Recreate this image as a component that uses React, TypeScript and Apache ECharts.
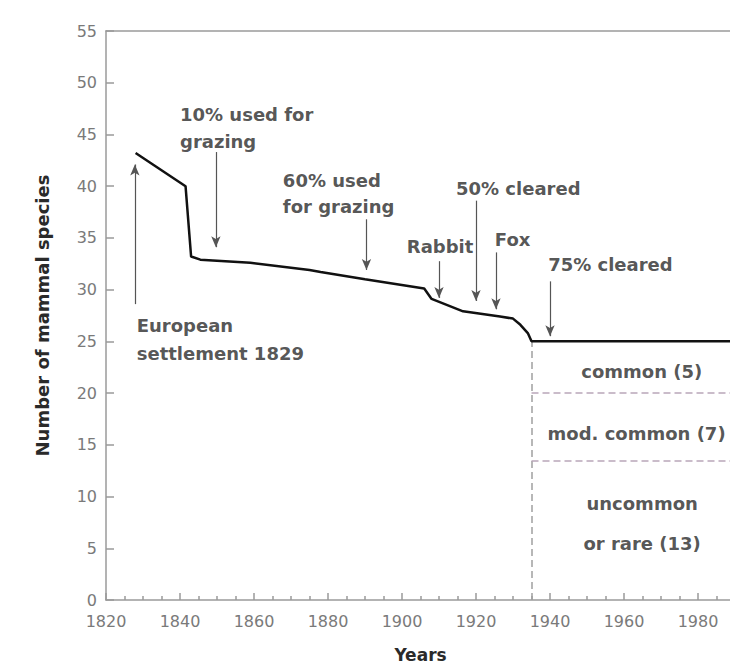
import React, { useEffect, useRef } from "react";
import * as echarts from "echarts";

// Species curve: [year, number of mammal species]
const years = [1828, 1841.5, 1843, 1845.5, 1859, 1875, 1878, 1890, 1906, 1908, 1916.5, 1926.5, 1930, 1932, 1934, 1935, 1990];
const species = [43.2, 40, 33.2, 32.9, 32.6, 31.9, 31.7, 31.0, 30.1, 29.1, 27.9, 27.4, 27.2, 26.6, 25.8, 25, 25];

// Event arrows: year, start value, end value
const arrowYears = [1827.8, 1849.7, 1890.4, 1910, 1920, 1925.4, 1940];
const arrowFrom = [28.6, 43.3, 36.8, 32.75, 38.6, 33.6, 30.8];
const arrowTo = [42.1, 34.1, 31.9, 29.2, 28.9, 28.1, 25.5];

// Event labels (left aligned)
const eventTexts = ["European\nsettlement 1829", "10% used for\ngrazing", "60% used\nfor grazing", "Rabbit", "50% cleared", "Fox", "75% cleared"];
const eventX = [1828.3, 1840, 1867.8, 1901.3, 1914.6, 1925.1, 1939.5];
const eventY = [25.2, 45.6, 39.3, 34.15, 39.8, 34.8, 32.4];

// Category bands after 1935
const bandTexts = ["common (5)", "mod. common (7)", "uncommon\nor rare (13)"];
const bandX = [1964.8, 1963.4, 1964.9];
const bandY = [22.07, 16.1, 7.4];
const bandBounds = [20, 13.5];
const stableYear = 1935;
const stableValue = 25;

const xTicks = { min: 1820, max: 1990, interval: 20 };
const yTicks = { min: 0, max: 55, interval: 5 };

export default function App() {
  const ref = useRef<HTMLDivElement>(null);
  useEffect(() => {
    document.body.style.margin = "0";
    document.body.style.overflow = "hidden";
    const chart = echarts.init(ref.current!, undefined, { renderer: "svg", width: 730, height: 664 });
    const font = "DejaVu Sans";
    const annColor = "#2a2a2a";
    const axisColor = "#9a9a9a";
    const labelColor = "#7a7a7a";

    const arrowData = arrowYears.map((x, i) => [
      { coord: [x, arrowFrom[i]] },
      { coord: [x, arrowTo[i]] },
    ]);

    const eventData = eventTexts.map((t, i) => ({
      value: [eventX[i], eventY[i]],
      label: {
        formatter: t,
        align: "left",
        verticalAlign: "middle",
        lineHeight: i === 0 ? 28 : 26.7,
      },
    }));

    const bandData = bandTexts.map((t, i) => ({
      value: [bandX[i], bandY[i]],
      label: {
        formatter: t,
        align: "center",
        verticalAlign: "middle",
        lineHeight: 40,
      },
    }));

    chart.setOption({
      animation: false,
      backgroundColor: "#ffffff",
      grid: {
        left: 106,
        top: 31,
        width: 629,
        height: 569,
        containLabel: false,
        outerBoundsMode: "none",
      },
      xAxis: [
        {
          type: "value",
          min: xTicks.min,
          max: xTicks.max,
          interval: xTicks.interval,
          name: "Years",
          nameLocation: "middle",
          nameGap: 46,
          nameTextStyle: { fontFamily: font, fontWeight: "bold", fontSize: 17, color: annColor },
          axisLine: { lineStyle: { color: axisColor, width: 1.5 } },
          axisTick: { inside: true, length: 7, lineStyle: { color: axisColor, width: 1.5 } },
          minorTick: { show: true, splitNumber: 4, length: 4, lineStyle: { color: axisColor, width: 1.5 } },
          splitLine: { show: false },
          axisLabel: {
            fontFamily: font,
            fontSize: 16,
            color: labelColor,
            margin: 13,
            formatter: (v: number) => (v % 20 === 0 && v <= 1980 ? String(v) : ""),
          },
        },
        {
          type: "value",
          position: "top",
          min: xTicks.min,
          max: xTicks.max,
          axisLine: { show: true, lineStyle: { color: axisColor, width: 1.5 } },
          axisTick: { show: false },
          axisLabel: { show: false },
          splitLine: { show: false },
        },
      ],
      yAxis: {
        type: "value",
        min: yTicks.min,
        max: yTicks.max,
        interval: yTicks.interval,
        name: "Number of mammal species",
        nameLocation: "middle",
        nameGap: 55,
        nameRotate: 90,
        nameTextStyle: { fontFamily: font, fontWeight: "bold", fontSize: 18, color: annColor },
        axisLine: { show: true, lineStyle: { color: axisColor, width: 1.5 } },
        axisTick: { show: true, inside: true, length: 8, lineStyle: { color: axisColor, width: 1.5 } },
        splitLine: { show: false },
        axisLabel: { fontFamily: font, fontSize: 16, color: labelColor, margin: 9 },
      },
      series: [
        {
          type: "line",
          name: "species",
          data: years.map((y, i) => [y, species[i]]),
          symbol: "none",
          lineStyle: { color: "#111111", width: 2.5 },
          z: 5,
          markLine: {
            silent: true,
            symbol: ["none", "arrow"],
            symbolSize: [7, 11],
            label: { show: false },
            lineStyle: { color: "#555555", width: 1.2, type: "solid" },
            data: arrowData,
          },
        },
        {
          type: "line",
          name: "bands",
          data: [],
          markLine: {
            silent: true,
            symbol: ["none", "none"],
            label: { show: false },
            data: [
              [
                { coord: [stableYear, 0], lineStyle: { color: "#a0a0a0", type: [7, 4], width: 1.5 } },
                { coord: [stableYear, stableValue] },
              ],
              ...bandBounds.map((b) => [
                { coord: [stableYear, b], lineStyle: { color: "#b9a6b9", type: [7, 4], width: 1.5 } },
                { coord: [xTicks.max, b] },
              ]),
            ],
          },
        },
        {
          type: "scatter",
          name: "events",
          symbolSize: 0,
          data: eventData,
          label: {
            show: true,
            position: "inside",
            fontFamily: font,
            fontWeight: "bold",
            fontSize: 18,
            color: annColor,
          },
          z: 10,
        },
        {
          type: "scatter",
          name: "bandLabels",
          symbolSize: 0,
          data: bandData,
          label: {
            show: true,
            position: "inside",
            fontFamily: font,
            fontWeight: "bold",
            fontSize: 18,
            color: annColor,
          },
          z: 10,
        },
      ],
    });
    return () => chart.dispose();
  }, []);
  return <div ref={ref} style={{ width: 730, height: 664 }} />;
}
